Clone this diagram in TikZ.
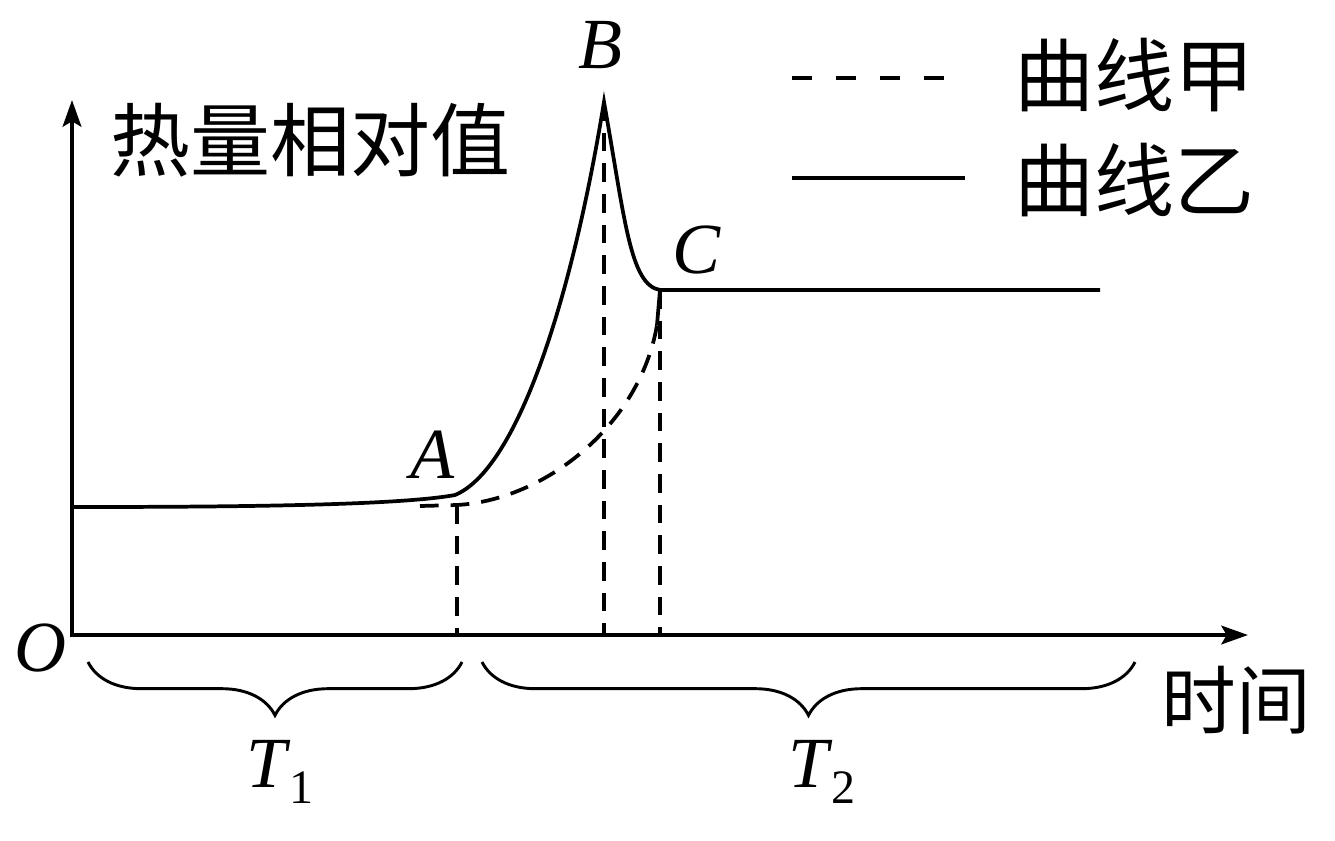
\documentclass[tikz,border=0pt]{standalone}
\usepackage{fontspec}
\setmainfont{Liberation Serif}
\newfontfamily\cjk{Noto Sans CJK SC}
\usetikzlibrary{arrows.meta,decorations.pathreplacing}
\begin{document}
\begin{tikzpicture}[x=0.75pt,y=-0.75pt,
  ln/.style={line width=2.8pt},
  dsh/.style={line width=2.8pt,dash pattern=on 14pt off 9pt},
  ax/.style={line width=2.8pt,-{Stealth[length=20pt,width=14pt,inset=4pt]}},
  cn/.style={font=\cjk\fontsize{60}{66}\selectfont},
  lt/.style={font=\fontsize{54}{60}\selectfont\itshape},
  brc/.style={line width=2.2pt,decorate,decoration={brace,amplitude=40pt,mirror}}]
\useasboundingbox (0,0) rectangle (1335,840);
% axes
\coordinate (O) at (72,635);
\coordinate (ytip) at (72,100);
\coordinate (xtip) at (1248,635);
\draw[ax] (72,637) -- (ytip);
\draw[ax] (70,635) -- (xtip);
\node[lt] (lO) at (40,648) {O};
\node[cn] (ylab) at (310,140) {热量相对值};
\node[cn,font=\cjk\fontsize{56}{60}\selectfont] (xlab) at (1236,700) {时间};
% key points
\coordinate (S) at (72,507);
\coordinate (A) at (455,495);
\coordinate (Ad) at (457,505);
\coordinate (B) at (604,102);
\coordinate (C) at (660,290);
\coordinate (Cd) at (657,325);
\coordinate (E) at (1100,290);
\coordinate (Ab) at (457,635);
\coordinate (Bb) at (604,635);
\coordinate (Cb) at (660,635);
% curve yi (solid)
\draw[ln,line join=miter] (S) .. controls (250,507) and (400,505) .. (A)
  .. controls (515,470) and (570,310) .. (B)
  .. controls (625,220) and (630,285) .. (C) -- (E);
% curve jia (dashed)
\draw[dsh] (420,506) -- (Ad) .. controls (545,500) and (640,425) .. (Cd);
\draw[ln] (Cd) -- (C);
\draw[dsh] (C) -- (E);
% drop lines
\draw[dsh] (Ad) -- (Ab);
\draw[dsh] (B) -- (Bb);
\draw[dsh] (C) -- (Cb);
% point labels
\node[lt] (lA) at (432,455) {A};
\node[lt] (lB) at (600,45) {B};
\node[lt] (lC) at (697,250) {C};
% legend
\coordinate (l1a) at (792,78);
\coordinate (l1b) at (965,78);
\coordinate (l2a) at (792,178);
\coordinate (l2b) at (965,178);
\draw[line width=2.8pt,dash pattern=on 15pt off 18pt] (l1a) -- (l1b);
\draw[ln] (l2a) -- (l2b);
\node[cn,anchor=west] (leg1) at (1010,75) {曲线甲};
\node[cn,anchor=west] (leg2) at (1010,180) {曲线乙};
% braces
\coordinate (b1a) at (88,662);
\coordinate (b1b) at (462,662);
\coordinate (b2a) at (482,662);
\coordinate (b2b) at (1135,662);
\draw[brc] (b1a) -- (b1b);
\draw[brc] (b2a) -- (b2b);
\node[lt] (T1) at (280,772) {T\kern2pt\raisebox{-12pt}{\fontsize{36}{40}\selectfont\upshape 1}};
\node[lt] (T2) at (822,772) {T\kern2pt\raisebox{-12pt}{\fontsize{36}{40}\selectfont\upshape 2}};
\end{tikzpicture}
\end{document}
